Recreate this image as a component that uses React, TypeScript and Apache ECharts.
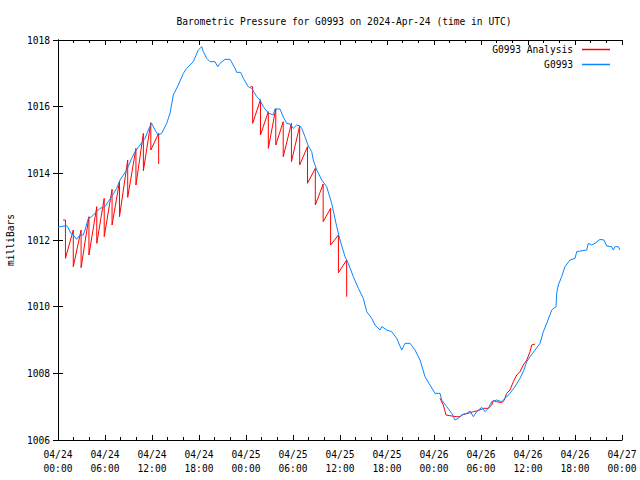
import React, { useEffect, useRef } from "react";
import * as echarts from "echarts";

const TITLE = "Barometric Pressure for G0993 on 2024-Apr-24 (time in UTC)";
const Y_NAME = "milliBars";
const SERIES_ANALYSIS = "G0993 Analysis";
const SERIES_OBS = "G0993";

// x = hours since 04/24 00:00 UTC
const X_TICK_LABELS = [
  "04/24\n00:00", "04/24\n06:00", "04/24\n12:00", "04/24\n18:00",
  "04/25\n00:00", "04/25\n06:00", "04/25\n12:00", "04/25\n18:00",
  "04/26\n00:00", "04/26\n06:00", "04/26\n12:00", "04/26\n18:00",
  "04/27\n00:00",
];

// Observed pressure (blue)
const obsHours = [
  0, 0.26, 1.11, 1.31, 1.66, 1.95, 2.39, 2.81, 3.23, 3.45, 3.87, 4.3, 4.94, 5.36, 6.0, 6.42, 6.86, 7.49, 7.92,
  8.34, 8.77, 9.41, 9.83, 10.47, 11.11, 11.53, 11.96, 12.38, 12.8, 13.24, 13.88, 14.3, 14.72, 15.36, 16.0,
  16.43, 17.27, 17.91, 18.35, 18.55, 18.98, 19.4, 20.04, 20.39, 20.68, 21.32, 21.96, 22.6, 22.81, 23.32,
  23.66, 24.29, 24.73, 25.37, 25.79, 26.21, 26.85, 27.49, 27.7, 28.34, 28.76, 29.2, 29.62, 30.04, 30.47,
  30.9, 31.11, 31.53, 31.95, 32.39, 32.59, 33.03, 33.67, 34.3, 34.94, 35.58, 36.0, 36.64, 37.06, 37.7,
  38.34, 38.98, 39.41, 40.05, 40.47, 41.11, 41.33, 41.96, 42.6, 43.24, 43.88, 44.3, 44.94, 45.58, 46.22,
  46.85, 47.49, 48.13, 48.77, 48.98, 49.62, 50.26, 50.68, 51.1, 51.54, 52.18, 52.6, 53.02, 53.45, 54.09,
  54.51, 54.93, 55.37, 56.01, 56.64, 57.07, 57.7, 58.34, 58.98, 59.4, 59.84, 60.26, 60.9, 61.53, 61.96,
  62.39, 63.03, 63.58, 63.66, 63.87, 64.3, 64.72, 65.36, 66.0, 66.22, 67.49, 67.7, 68.13, 68.56, 69.19,
  69.7, 70.05, 70.69, 70.89, 71.11, 71.53, 71.74,
];
const obsValues = [
  1012.39, 1012.4, 1012.43, 1012.36, 1012.2, 1012.15, 1012.02, 1012.15, 1012.15, 1012.3, 1012.65, 1012.7,
  1012.85, 1012.95, 1013.0, 1013.15, 1013.3, 1013.55, 1013.8, 1013.95, 1014.1, 1014.45, 1014.65, 1014.85,
  1015.05, 1015.3, 1015.5, 1015.3, 1015.15, 1015.2, 1015.5, 1015.8, 1016.35, 1016.65, 1017.0, 1017.15,
  1017.35, 1017.7, 1017.8, 1017.65, 1017.45, 1017.35, 1017.35, 1017.2, 1017.3, 1017.42, 1017.42, 1017.15,
  1017.03, 1017.03, 1016.85, 1016.6, 1016.55, 1016.3, 1016.2, 1016.0, 1015.81, 1015.75, 1015.93, 1015.93,
  1015.69, 1015.5, 1015.48, 1015.35, 1015.45, 1015.42, 1015.35, 1015.1, 1014.82, 1014.65, 1014.4, 1014.1,
  1013.8, 1013.6, 1013.1, 1012.4, 1012.0, 1011.5, 1011.3, 1010.9, 1010.55, 1010.25, 1009.85, 1009.65,
  1009.45, 1009.3, 1009.4, 1009.3, 1009.25, 1009.05, 1008.7, 1008.9, 1008.9, 1008.7, 1008.4, 1007.9,
  1007.65, 1007.4, 1007.4, 1007.2, 1007.0, 1006.8, 1006.6, 1006.65, 1006.75, 1006.8, 1006.87, 1006.7,
  1006.85, 1006.98, 1006.85, 1006.95, 1007.15, 1007.2, 1007.15, 1007.25, 1007.4, 1007.6, 1007.85, 1008.05,
  1008.35, 1008.5, 1008.7, 1008.9, 1009.25, 1009.5, 1009.9, 1010.0, 1010.4, 1010.65, 1010.9, 1011.2,
  1011.4, 1011.45, 1011.65, 1011.7, 1011.9, 1011.85, 1011.9, 1012.02, 1012.0, 1011.82, 1011.8, 1011.7,
  1011.8, 1011.8, 1011.7,
];

// Analysis (red): first hourly sawtooth run
const saw1StartHour = 0.65;
const saw1StartValue = 1012.6;
const saw1Hours = [0.95, 1.95, 2.95, 3.95, 4.95, 5.9, 6.9, 7.85, 8.9, 9.95, 10.9, 11.85, 12.85];
const saw1Tops = [1012.6, 1012.3, 1012.3, 1012.7, 1013.0, 1013.25, 1013.52, 1013.75, 1014.4, 1014.75, 1015.2, 1015.52, 1015.2];
const saw1Lows = [1011.45, 1011.2, 1011.17, 1011.55, 1011.9, 1012.1, 1012.45, 1012.7, 1013.28, 1013.65, 1014.08, 1014.7, 1014.28];

// Analysis (red): second hourly sawtooth run
const saw2StartHour = 24.6;
const saw2StartValue = 1016.6;
const saw2Hours = [24.85, 25.85, 26.85, 27.8, 28.75, 29.8, 30.85, 31.85, 32.85, 33.85, 34.8, 35.8, 36.85];
const saw2Tops = [1016.6, 1016.21, 1015.85, 1015.94, 1015.55, 1015.5, 1015.42, 1014.8, 1014.15, 1013.68, 1012.95, 1012.15, 1011.4];
const saw2Lows = [1015.5, 1015.15, 1014.75, 1014.85, 1014.5, 1014.35, 1014.25, 1013.7, 1013.05, 1012.55, 1011.85, 1011.02, 1010.3];

// Analysis (red): smooth run on 04/26
const smoothHours = [
  48.77, 49.19, 49.53, 50.26, 50.9, 51.32, 51.74, 52.38, 53.02, 53.66, 54.3, 54.93, 55.37, 55.57, 56.01,
  56.64, 56.94, 57.28, 57.7, 58.13, 58.56, 58.98, 59.4, 59.84, 60.26, 60.47, 60.9,
];
const smoothValues = [
  1007.25, 1007.05, 1006.75, 1006.72, 1006.7, 1006.7, 1006.77, 1006.8, 1006.85, 1006.88, 1006.95, 1006.95,
  1007.05, 1007.18, 1007.15, 1007.12, 1007.18, 1007.4, 1007.5, 1007.75, 1007.95, 1008.05, 1008.25, 1008.4,
  1008.65, 1008.85, 1008.88,
];

const FONT = "DejaVu Sans Mono";
const RED = "#ff0000";
const BLUE = "#0a84ff";

function buildSaw(startH: number, startV: number, hours: number[], tops: number[], lows: number[]) {
  const pts: (number | null)[][] = [[startH, startV]];
  hours.forEach((h, i) => {
    pts.push([h, tops[i]]);
    pts.push([h, lows[i]]);
  });
  return pts;
}

export default function App() {
  const ref = useRef<HTMLDivElement>(null);
  useEffect(() => {
    if (!ref.current) return;
    const chart = echarts.init(ref.current, undefined, { renderer: "svg" });
    const analysisData: (number | null)[][] = [
      ...buildSaw(saw1StartHour, saw1StartValue, saw1Hours, saw1Tops, saw1Lows),
      [18, null],
      ...buildSaw(saw2StartHour, saw2StartValue, saw2Hours, saw2Tops, saw2Lows),
      [43, null],
      ...smoothHours.map((h, i) => [h, smoothValues[i]]),
    ];
    const obsData = obsHours.map((h, i) => [h, obsValues[i]]);
    const txt = { fontFamily: FONT, fontSize: 9.6, color: "#000" };
    const axisLine = { show: true, lineStyle: { color: "#000", width: 1 } };
    const legendBase = {
      orient: "vertical",
      align: "right",
      right: 30,
      padding: 0,
      itemWidth: 28,
      itemHeight: 1.5,
      icon: "rect",
      textStyle: { ...txt, padding: [0, 4, 0, 0] },
    };
    chart.setOption({
      animation: false,
      backgroundColor: "#fff",
      title: {
        text: TITLE,
        left: 339,
        textAlign: "center",
        top: 11,
        textStyle: { ...txt, fontWeight: "normal" },
      },
      legend: [
        { ...legendBase, data: [SERIES_ANALYSIS], top: 44.5 },
        { ...legendBase, data: [SERIES_OBS], top: 59.5 },
      ],
      grid: {
        left: 58,
        right: 18,
        top: 40,
        bottom: 40,
        containLabel: false,
        outerBoundsMode: "none",
      },
      xAxis: [
        {
          type: "value",
          min: 0,
          max: 72,
          interval: 6,
          position: "bottom",
          axisLine,
          axisTick: { show: true, inside: true, length: 5, lineStyle: { color: "#000" } },
          minorTick: { show: true, splitNumber: 3, length: 3, lineStyle: { color: "#000" } },
          splitLine: { show: false },
          axisLabel: {
            ...txt,
            margin: 7,
            lineHeight: 14,
            formatter: (v: number) => X_TICK_LABELS[Math.round(v / 6)] ?? "",
          },
        },
        {
          type: "value",
          min: 0,
          max: 72,
          interval: 6,
          position: "top",
          axisLine,
          axisTick: { show: true, inside: true, length: 5, lineStyle: { color: "#000" } },
          minorTick: { show: true, splitNumber: 3, length: 3, lineStyle: { color: "#000" } },
          splitLine: { show: false },
          axisLabel: { show: false },
        },
      ],
      yAxis: [
        {
          type: "value",
          min: 1006,
          max: 1018,
          interval: 2,
          position: "left",
          name: Y_NAME,
          nameLocation: "middle",
          nameGap: 43,
          nameTextStyle: txt,
          axisLine,
          axisTick: { show: true, inside: true, length: 5, lineStyle: { color: "#000" } },
          splitLine: { show: false },
          axisLabel: { ...txt, margin: 8, formatter: (v: number) => String(v) },
        },
        {
          type: "value",
          min: 1006,
          max: 1018,
          interval: 2,
          position: "right",
          axisLine,
          axisTick: { show: true, inside: true, length: 5, lineStyle: { color: "#000" } },
          splitLine: { show: false },
          axisLabel: { show: false },
        },
      ],
      series: [
        {
          name: SERIES_ANALYSIS,
          type: "line",
          xAxisIndex: 0,
          yAxisIndex: 0,
          data: analysisData,
          symbol: "none",
          connectNulls: false,
          lineStyle: { color: RED, width: 1 },
          itemStyle: { color: RED },
        },
        {
          name: SERIES_OBS,
          type: "line",
          xAxisIndex: 0,
          yAxisIndex: 0,
          data: obsData,
          symbol: "none",
          lineStyle: { color: BLUE, width: 1 },
          itemStyle: { color: BLUE },
        },
      ],
    });
    return () => chart.dispose();
  }, []);
  return (
    <div
      ref={ref}
      style={{ position: "absolute", left: 0, top: 0, width: 640, height: 480 }}
    />
  );
}
